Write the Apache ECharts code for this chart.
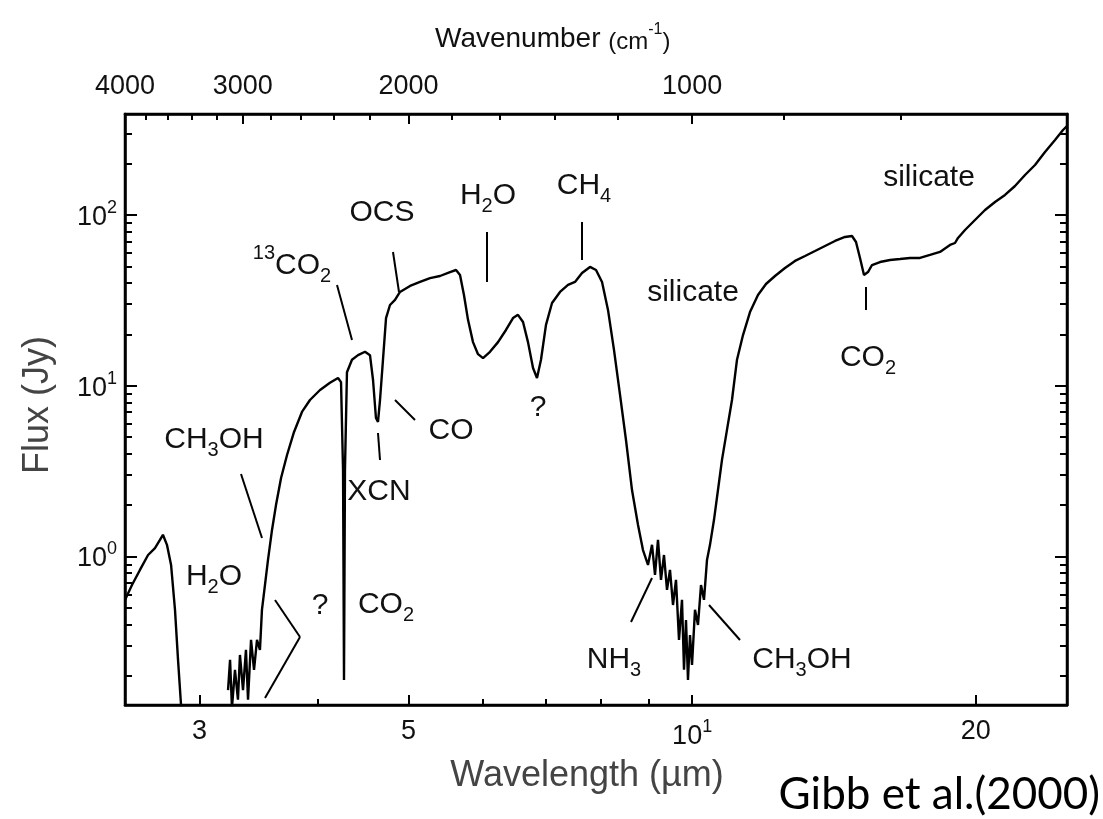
<!DOCTYPE html>
<html><head><meta charset="utf-8">
<script src="https://cdn.jsdelivr.net/npm/echarts@6/dist/echarts.min.js"></script>
<style>html,body{margin:0;padding:0;background:#fff}#c{width:1103px;height:819px}</style>
</head><body><div id="c"></div>
<script>
// ---- DATA (wavelength in micron, flux in Jy; null = gap) ----
const wavelength = [
  2.500,2.543,2.593,2.645,2.690,2.723,2.743,2.770,2.798,2.825,2.846,2.867,2.895,
  3.000,
  3.216,3.232,3.247,3.271,3.295,3.311,3.336,3.360,3.377,3.402,3.427,3.452,3.477,3.494,3.520,3.546,3.581,3.616,3.661,3.715,3.779,3.853,3.929,4.027,4.126,4.208,4.239,4.260,4.270,4.280,4.301,4.354,4.419,4.495,4.550,4.584,4.617,4.640,4.663,4.697,4.732,4.778,4.837,4.896,5.018,5.142,5.269,5.399,5.533,5.615,5.670,5.725,5.782,5.853,5.925,5.998,6.101,6.222,6.344,6.454,6.533,6.614,6.695,6.778,6.844,6.911,6.996,7.100,7.240,7.383,7.510,7.640,7.791,7.906,8.023,8.141,8.261,8.384,8.507,8.633,8.761,8.868,8.977,9.066,9.132,9.199,9.267,9.335,9.404,9.473,9.543,9.613,9.684,9.755,9.803,9.851,9.899,9.948,9.997,10.070,10.144,10.219,10.294,10.370,10.446,10.549,10.652,10.757,10.889,11.023,11.159,11.324,11.519,11.746,11.978,12.245,12.548,12.859,13.177,13.503,13.837,14.179,14.530,14.781,14.926,15.073,15.221,15.370,15.522,15.828,16.220,16.621,17.032,17.454,17.886,18.328,18.782,19.013,19.153,19.483,19.965,20.460,20.966,21.485,22.016,22.561,23.119,23.691,24.278,24.757,25.0
];
const flux = [
  0.557,0.681,0.834,1.02,1.12,1.25,1.34,1.17,0.892,0.487,0.248,0.135,0.09,
  null,
  0.165,0.248,0.13,0.217,0.145,0.265,0.165,0.284,0.145,0.325,0.217,0.325,0.284,0.487,0.681,0.955,1.43,2.00,2.88,3.93,5.36,7.02,8.25,9.44,10.4,11.1,10.5,3.21,0.189,3.21,12.0,14.2,15.1,15.8,15.1,10.8,6.47,6.14,8.25,14.2,24.9,29.7,31.8,35.4,38.4,40.5,42.7,43.9,46.3,47.6,44.5,34.0,24.3,18.0,15.3,14.5,15.8,18.0,21.2,24.9,26.0,23.6,18.0,12.7,11.1,14.2,22.7,30.5,35.4,38.9,40.5,45.7,49.6,47.6,40.5,27.8,16.2,8.83,4.81,2.45,1.53,1.09,0.892,1.17,0.780,1.25,0.729,1.02,0.637,0.834,0.520,0.729,0.325,0.557,0.217,0.425,0.189,0.347,0.232,0.487,0.397,0.681,0.557,0.955,1.17,1.64,2.45,3.68,5.51,8.25,14.2,19.8,27.0,34.0,39.4,43.9,48.9,53.8,57.5,61.5,65.8,70.4,74.3,75.3,69.4,56.0,44.5,46.3,50.9,53.0,54.5,55.2,56.0,56.0,58.3,60.7,66.7,68.5,73.3,81.6,93.4,106.9,119.1,130.9,147.7,171.4,196.1,233.7,274.7,314.3,331.8
];
const bottomMajorTicks = [3, 5, 10, 20];
const bottomMinorTicks = [4, 6, 7, 8, 9];
const topMajorWavenumbers = [4000, 3000, 2000, 1000];
const topMinorWavenumbers = [3800, 3600, 3400, 3200, 2800, 2600, 2400, 2200, 1800, 1600, 1400, 1200, 800, 600];
const yMajorTicks = [1, 10, 100];
const yMinorTicks = [0.2, 0.3, 0.4, 0.5, 0.6, 0.7, 0.8, 0.9, 2, 3, 4, 5, 6, 7, 8, 9, 20, 30, 40, 50, 60, 70, 80, 90, 200, 300];

// ---- LAYOUT ----
const FONT = '"Liberation Sans", Arial, Helvetica, sans-serif';
const annotations = [
  ['{n|silicate}', 929, 180],
  ['{n|CH}{s|4}', 584, 188],
  ['{n|H}{s|2}{n|O}', 488, 198],
  ['{n|OCS}', 382, 215],
  ['{u|13}{m|CO}{t|2}', 292, 260],
  ['{n|silicate}', 693, 295],
  ['{n|CO}{s|2}', 868, 360],
  ['{n|?}', 538, 410],
  ['{n|CO}', 451, 433],
  ['{n|CH}{s|3}{n|OH}', 214, 442],
  ['{n|XCN}', 379, 494],
  ['{n|H}{s|2}{n|O}', 214, 579],
  ['{n|CO}{s|2}', 386, 607],
  ['{n|?}', 320, 608],
  ['{n|NH}{s|3}', 614, 662],
  ['{n|CH}{s|3}{n|OH}', 802, 662]
];
const leaders = [
  [241,474,262,538],
  [275,600,300,637],[300,637,265,698],
  [337,285,352,340],
  [393,252,399,292],
  [487,232,487,282],
  [582,222,582,260],
  [866,287,866,310],
  [395,400,415,420],
  [378,433,380,460],
  [652,578,631,622],
  [709,605,740,640]
];

const seriesData = wavelength.map((w, i) => [w, flux[i] === null ? '-' : flux[i]]);

const annRich = {
  n: {fontSize: 30, fontFamily: FONT, fill: '#111', color: '#111', verticalAlign: 'top', lineHeight: 34},
  s: {fontSize: 20, fontFamily: FONT, fill: '#111', color: '#111', verticalAlign: 'top', lineHeight: 34, padding: [15, 0, 0, 0]},
  m: {fontSize: 30, fontFamily: FONT, fill: '#111', color: '#111', verticalAlign: 'top', lineHeight: 34, padding: [8, 0, 0, 0]},
  t: {fontSize: 20, fontFamily: FONT, fill: '#111', color: '#111', verticalAlign: 'top', lineHeight: 34, padding: [23, 0, 0, 0]},
  u: {fontSize: 20, fontFamily: FONT, fill: '#111', color: '#111', verticalAlign: 'top', lineHeight: 24}
};

const tickStyle = {color: '#000', width: 2};
const supRich = {
  a: {fontSize: 27, fontFamily: FONT, color: '#111', verticalAlign: 'top', padding: [5, 0, 0, 0]},
  b: {fontSize: 18, fontFamily: FONT, color: '#111', verticalAlign: 'top'}
};
function powLabel(v) {
  const e = Math.round(Math.log10(v));
  return '{a|10}{b|' + e + '}';
}

function xAxisDef(position, ticks, len, labelOpt, lineShow) {
  return {
    type: 'log', logBase: 10, min: 2.5, max: 25, position: position,
    axisLine: {show: lineShow, lineStyle: {color: '#000', width: 2.5}},
    axisTick: {show: true, inside: true, length: len, customValues: ticks, lineStyle: tickStyle},
    axisLabel: labelOpt || {show: false},
    splitLine: {show: false}, minorTick: {show: false}
  };
}
function yAxisDef(position, ticks, len, labelOpt, lineShow) {
  return {
    type: 'log', logBase: 10, min: 0.135, max: 390, position: position,
    axisLine: {show: lineShow, lineStyle: {color: '#000', width: 2.5}},
    axisTick: {show: true, inside: true, length: len, customValues: ticks, lineStyle: tickStyle},
    axisLabel: labelOpt || {show: false},
    splitLine: {show: false}, minorTick: {show: false}
  };
}

const topMajor = topMajorWavenumbers.map(w => 1e4 / w);
const topMinor = topMinorWavenumbers.map(w => 1e4 / w);

const graphics = [];
annotations.forEach(a => {
  graphics.push({type: 'text', x: a[1], y: a[2], silent: true,
    style: {text: a[0], rich: annRich, align: 'center', verticalAlign: 'middle', textAlign: 'center', textVerticalAlign: 'middle'}});
});
leaders.forEach(l => {
  graphics.push({type: 'line', silent: true, shape: {x1: l[0], y1: l[1], x2: l[2], y2: l[3]}, style: {stroke: '#000', lineWidth: 2}});
});
// titles
graphics.push({type: 'text', x: 435, y: 38, silent: true,
  style: {text: '{t|Wavenumber }{p|(cm}{q|-1}{p|)}', align: 'left', verticalAlign: 'middle', textAlign: 'left', textVerticalAlign: 'middle',
    rich: {
      t: {fontSize: 28, fontFamily: FONT, fill: '#111', verticalAlign: 'top', padding: [4, 0, 0, 0]},
      p: {fontSize: 24, fontFamily: FONT, fill: '#111', verticalAlign: 'top', padding: [9, 0, 0, 0]},
      q: {fontSize: 16, fontFamily: FONT, fill: '#111', verticalAlign: 'top'}
    }}});
graphics.push({type: 'text', x: 38, y: 405, rotation: Math.PI / 2, silent: true,
  style: {text: 'Flux (Jy)', fontSize: 36, fontFamily: FONT, fill: '#444', align: 'center', verticalAlign: 'middle', textAlign: 'center', textVerticalAlign: 'middle'}});
graphics.push({type: 'text', x: 587, y: 776, silent: true,
  style: {text: 'Wavelength (\u00b5m)', fontSize: 36, fontFamily: FONT, fill: '#444', align: 'center', verticalAlign: 'middle', textAlign: 'center', textVerticalAlign: 'middle'}});
graphics.push({type: 'text', x: 1100, y: 795, silent: true,
  style: {text: 'Gibb et al.(2000)', fontSize: 44, fontFamily: 'Lato, "Open Sans", sans-serif', fill: '#000', align: 'right', verticalAlign: 'middle', textAlign: 'right', textVerticalAlign: 'middle'}});

const chart = echarts.init(document.getElementById('c'), null, {renderer: 'canvas'});
chart.setOption({
  animation: false,
  backgroundColor: '#fff',
  grid: {left: 125, top: 114, width: 942, height: 591, show: true, borderColor: '#000', borderWidth: 2.5,
         containLabel: false, outerBoundsMode: 'none'},
  xAxis: [
    xAxisDef('bottom', bottomMajorTicks, 10, {
      show: true, customValues: bottomMajorTicks, margin: 13, color: '#111', fontSize: 27, fontFamily: FONT,
      formatter: v => (Math.abs(v - 10) < 1e-6 ? '{a|10}{b|1}' : String(Math.round(v))), rich: supRich
    }, true),
    xAxisDef('bottom', bottomMinorTicks, 6, null, false),
    xAxisDef('top', topMajor, 10, {
      show: true, customValues: topMajor, margin: 14, color: '#111', fontSize: 27, fontFamily: FONT,
      formatter: v => String(Math.round(1e4 / v))
    }, true),
    xAxisDef('top', topMinor, 6, null, false)
  ],
  yAxis: [
    yAxisDef('left', yMajorTicks, 12, {
      show: true, customValues: yMajorTicks, margin: 8, color: '#111', fontSize: 27, fontFamily: FONT,
      formatter: powLabel, rich: supRich
    }, true),
    yAxisDef('left', yMinorTicks, 7, null, false),
    yAxisDef('right', yMajorTicks, 12, null, true),
    yAxisDef('right', yMinorTicks, 7, null, false)
  ],
  series: [{
    type: 'line', xAxisIndex: 0, yAxisIndex: 0, data: seriesData,
    showSymbol: false, symbol: 'none', connectNulls: false, clip: true, silent: true,
    lineStyle: {color: '#000', width: 2.4}
  }],
  graphic: graphics
});
</script></body></html>
